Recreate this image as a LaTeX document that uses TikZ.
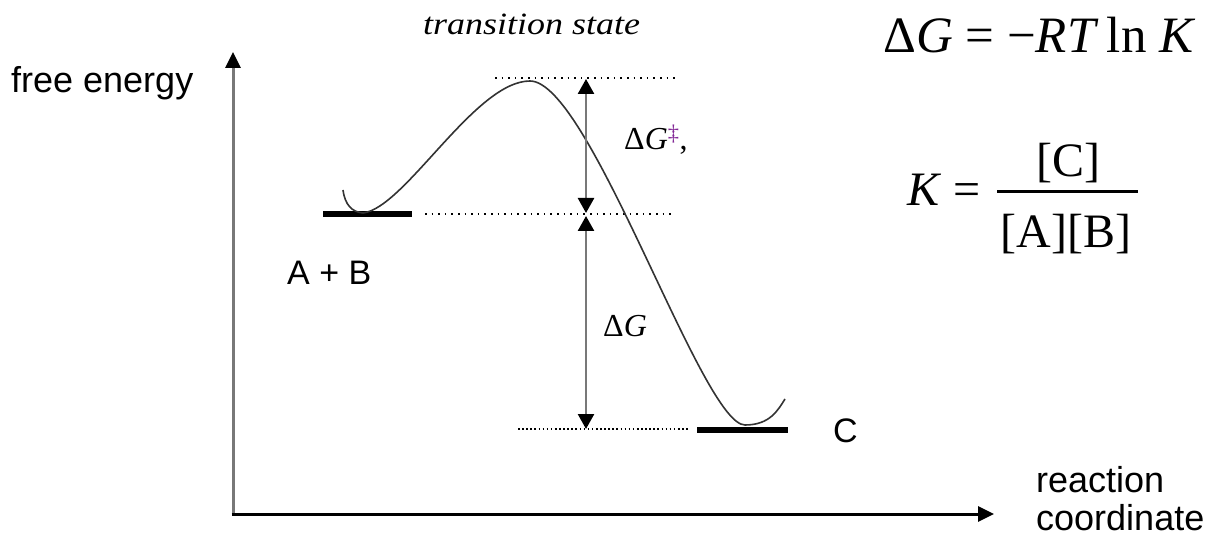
\documentclass[tikz,border=0pt]{standalone}
\usepackage{fontspec}
\setmainfont{Liberation Serif}
\newfontfamily\arialf{Liberation Sans}
\usetikzlibrary{arrows.meta}
\definecolor{axisgray}{RGB}{120,120,120}
\definecolor{daggerpurple}{RGB}{130,40,150}
\tikzset{
  sanslabel/.style={font=\arialf\fontsize{36}{38}\selectfont, inner sep=0pt, anchor=base west},
  seriflabel/.style={font=\fontsize{32}{34}\selectfont, inner sep=0pt, anchor=base west},
  eqlabel/.style={font=\fontsize{51}{54}\selectfont, inner sep=0pt},
  fraclabel/.style={font=\fontsize{48}{50}\selectfont, inner sep=0pt},
  levelbar/.style={line width=6pt},
  dotline/.style={line width=1.6pt, dash pattern=on 1.6pt off 5pt},
  dimarrow/.style={draw=axisgray, line width=2.5pt, {Triangle[length=15pt,width=16pt,black]}-{Triangle[length=15pt,width=16pt,black]}},
  axisline/.style={line width=3pt, -{Triangle[length=16pt,width=15pt]}},
  energycurve/.style={line width=1.6pt, draw=black!80}
}
\begin{document}
\begin{tikzpicture}[x=1pt,y=-1pt]
\useasboundingbox (0,0) rectangle (1213,545);
% axes
\coordinate (origin) at (233,514);
\coordinate (ytop) at (233,52);
\coordinate (xend) at (994,514);
\draw[axisline, draw=axisgray, -{Triangle[length=16pt,width=15pt,black]}] (origin) -- (ytop);
\draw[axisline] (231.5,514) -- (xend);
% energy levels
\coordinate (ablA) at (323,214);
\coordinate (ablB) at (412,214);
\coordinate (cblA) at (697,430);
\coordinate (cblB) at (788,430);
\draw[levelbar] (ablA) -- (ablB);
\draw[levelbar] (cblA) -- (cblB);
% dotted reference lines
\coordinate (tsL) at (495,78);
\coordinate (tsR) at (678,78);
\coordinate (abL) at (425,214);
\coordinate (abR) at (674,214);
\coordinate (cL) at (518,429);
\coordinate (cR) at (690,429);
\draw[dotline] (tsL) -- (tsR);
\draw[dotline] (abL) -- (abR);
\draw[dotline, dash pattern=on 1.6pt off 2.5pt] (cL) -- (cR);
% energy curve
\coordinate (hook) at (343,190);
\coordinate (minA) at (363,213);
\coordinate (peak) at (530,81);
\coordinate (minC) at (745,425);
\coordinate (tail) at (785,399);
\draw[energycurve] (hook) .. controls (345,205) and (352,212) .. (minA)
  .. controls (405,208) and (475,81) .. (peak)
  .. controls (590,81) and (702,425) .. (minC)
  .. controls (770,425) and (778,410) .. (tail);
% dimension arrows
\coordinate (d1top) at (586,79);
\coordinate (d1bot) at (586,213);
\coordinate (d2top) at (586,216);
\coordinate (d2bot) at (586,429);
\draw[dimarrow] (d1top) -- (d1bot);
\draw[dimarrow] (d2top) -- (d2bot);
% labels
\node[seriflabel] (dgact) at (624,150) {Δ\textit{G}\textsuperscript{\textcolor{daggerpurple}{‡}},};
\node[seriflabel] (dg) at (603,337) {Δ\textit{G}};
\node[seriflabel, font=\fontsize{31}{33}\selectfont\itshape] (ts) at (423,35) {\scalebox{1.16}[1]{transition state}};
\node[sanslabel] (fe) at (11,93) {free energy};
\node[sanslabel, font=\arialf\fontsize{34}{36}\selectfont] (ab) at (287,285) {A + B};
\node[sanslabel, font=\arialf\fontsize{34}{36}\selectfont] (cc) at (833,442) {C};
\node[sanslabel] (rc1) at (1036,492) {reaction};
\node[sanslabel] (rc2) at (1036,530) {coordinate};
% equations
\node[eqlabel, anchor=base west] (eq1) at (883,53) {Δ\textit{G} = −\textit{RT}\,ln \textit{K}};
\node[fraclabel, anchor=base west] (keq) at (907,206) {\textit{K} =};
\node[fraclabel, anchor=base] (num) at (1068,177) {[C]};
\node[fraclabel, anchor=base] (den) at (1066,248) {[A][B]};
\coordinate (barL) at (997,192);
\coordinate (barR) at (1138,192);
\draw[line width=3pt] (barL) -- (barR);
\end{tikzpicture}
\end{document}
